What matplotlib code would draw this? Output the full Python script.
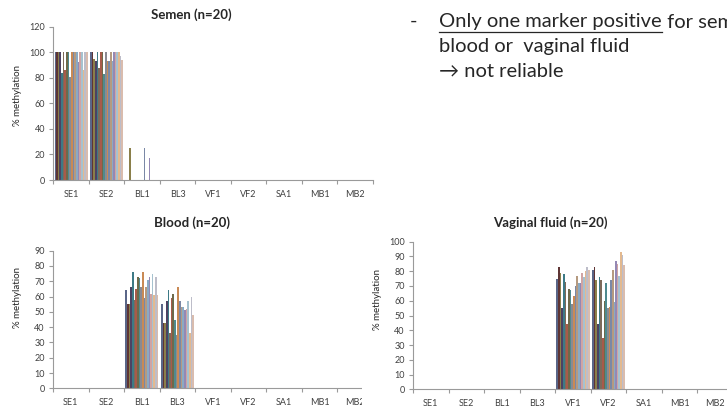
import numpy as np
import matplotlib
matplotlib.use("Agg")
import matplotlib.pyplot as plt
from matplotlib.patches import Rectangle
from matplotlib.lines import Line2D

plt.rcParams['font.family'] = ['Lato', 'DejaVu Sans']

markers = ['SE1', 'SE2', 'BL1', 'BL3', 'VF1', 'VF2', 'SA1', 'MB1', 'MB2']
n_samples = 20

# % methylation per sample (20) for each marker; markers not listed are 0
semen = {
    'SE1': [100, 100, 100, 100, 84, 100, 86, 100, 100, 81,
            100, 100, 100, 100, 92, 100, 100, 86, 100, 100],
    'SE2': [100, 100, 95, 93, 100, 88, 100, 100, 83, 100,
            93, 93, 100, 93, 100, 100, 100, 100, 97, 94],
    'BL1': [0, 0, 25, 0, 0, 0, 0, 0, 0, 0,
            0, 25, 0, 0, 17, 0, 0, 0, 0, 0],
}
blood = {
    'BL1': [64, 55, 55, 66, 76, 58, 65, 73, 72, 66,
            76, 59, 66, 71, 73, 62, 75, 61, 73, 61],
    'BL3': [55, 43, 43, 57, 64, 36, 59, 62, 45, 35,
            66, 57, 53, 53, 51, 52, 57, 36, 60, 48],
}
vaginal = {
    'VF1': [75, 83, 79, 55, 78, 73, 44, 68, 67, 58,
            63, 70, 77, 72, 72, 79, 76, 80, 83, 81],
    'VF2': [81, 83, 74, 44, 76, 74, 35, 60, 72, 55,
            56, 74, 81, 59, 87, 85, 77, 93, 91, 84],
}

colors = ['#5a6688', '#5e3535', '#8a7f4a', '#4c4262', '#3d7a86',
          '#7d6a5a', '#a85a4a', '#6e6a4a', '#4f8a8e', '#8a8a92',
          '#c98a55', '#7a88a6', '#b59a80', '#8aaac4', '#9488b4',
          '#d0a4a4', '#a6c2cf', '#e3b98f', '#bdbdc9', '#d9bcae']

W, H = 727, 412
fig = plt.figure(figsize=(W / 100, H / 100), dpi=100)


def px_axes(x0, x1, ytop, ybot, z=0):
    return fig.add_axes([x0 / W, 1 - ybot / H, (x1 - x0) / W, (ybot - ytop) / H],
                        zorder=z)


def draw_chart(ax, data, ymax, ystep):
    group = 0.93
    bw = group / n_samples
    x = np.arange(len(markers))
    for j in range(n_samples):
        vals = [data.get(m, [0] * n_samples)[j] for m in markers]
        ax.bar(x + (j - (n_samples - 1) / 2) * bw, vals, width=bw,
               color=colors[j], linewidth=0)
    ax.set_xlim(-0.5, len(markers) - 0.5)
    ax.set_ylim(0, ymax)
    ax.set_yticks(np.arange(0, ymax + 1, ystep))
    ax.set_xticks(x)
    ax.set_xticklabels(markers)
    ax.set_xticks(np.arange(-0.5, len(markers), 1), minor=True)
    ax.tick_params(axis='x', which='major', length=0, labelsize=6.5,
                   labelcolor='#404040', pad=7)
    ax.tick_params(axis='x', which='minor', length=3, color='#9a9a9a', width=0.8)
    ax.tick_params(axis='y', length=3, color='#9a9a9a', width=0.8,
                   labelsize=6.5, labelcolor='#404040', pad=3)
    for s in ['top', 'right']:
        ax.spines[s].set_visible(False)
    for s in ['left', 'bottom']:
        ax.spines[s].set_color('#9a9a9a')
        ax.spines[s].set_linewidth(0.8)
    ax.set_facecolor('white')


ax1 = px_axes(53.3, 373, 26.7, 180, z=0)
draw_chart(ax1, semen, 120, 20)
ax2 = px_axes(53, 373, 250.7, 388.3, z=0)
draw_chart(ax2, blood, 90, 10)

# right chart overlaps the left one
fig.add_artist(Rectangle((362 / W, 0), 1 - 362 / W, 212 / H,
                         transform=fig.transFigure, facecolor='white',
                         edgecolor='none', zorder=0.5))
ax3 = px_axes(413, 733, 241.7, 389.3, z=1)
draw_chart(ax3, vaginal, 100, 10)

title_kw = dict(fontsize=9.5, fontweight='bold', color='#262626',
                ha='center', va='center')
fig.text(191 / W, 1 - 15 / H, 'Semen (n=20)', **title_kw)
fig.text(192 / W, 1 - 223 / H, 'Blood (n=20)', **title_kw)
fig.text(550 / W, 1 - 223 / H, 'Vaginal fluid (n=20)', zorder=2, **title_kw)

ylab_kw = dict(fontsize=7, color='#262626', rotation=90, ha='center', va='center')
fig.text(17 / W, 1 - 95 / H, '% methylation', **ylab_kw)
fig.text(17 / W, 1 - 297 / H, '% methylation', **ylab_kw)
fig.text(377 / W, 1 - 300 / H, '% methylation', zorder=2, **ylab_kw)

# slide text
txt_kw = dict(fontsize=14.5, color='#262626', va='baseline', ha='left')
fig.text(410 / W, 1 - 27 / H, '-', **txt_kw)
t1 = fig.text(439 / W, 1 - 27 / H, 'Only one marker positive', **txt_kw)
fig.canvas.draw()
bb = t1.get_window_extent(renderer=fig.canvas.get_renderer())
fig.text(bb.x1 / W, 1 - 27 / H, ' for semen,', **txt_kw)
fig.add_artist(Line2D([bb.x0 / W, bb.x1 / W], [1 - 31.5 / H, 1 - 31.5 / H],
                      transform=fig.transFigure, color='#262626', linewidth=0.9))
fig.text(439 / W, 1 - 52 / H, 'blood or  vaginal fluid', **txt_kw)
fig.text(439 / W, 1 - 77 / H, '\u2192 not reliable', **txt_kw)

fig.savefig('out.png', dpi=100)
